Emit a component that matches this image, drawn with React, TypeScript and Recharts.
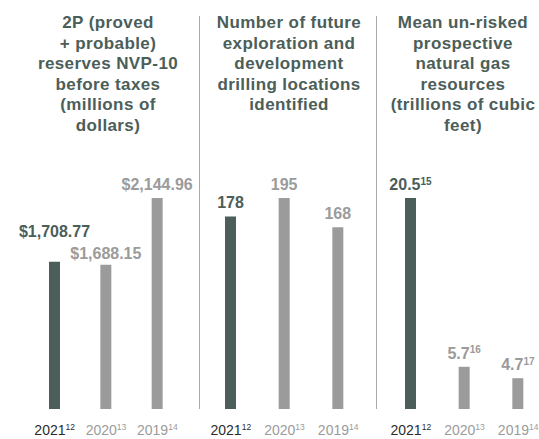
import { BarChart, Bar, XAxis, YAxis, Cell, LabelList } from 'recharts';

const years = ['2021', '2020', '2019'];
const yearNotes = ['12', '13', '14'];

const reserves = [1708.77, 1688.15, 2144.96];
const locations = [178, 195, 168];
const gasResources = [20.5, 5.7, 4.7];
const gasNotes = ['15', '16', '17'];

const reservesTitle = ['2P (proved', '+ probable)', 'reserves NVP-10', 'before taxes', '(millions of', 'dollars)'];
const locationsTitle = ['Number of future', 'exploration and', 'development', 'drilling locations', 'identified'];
const gasTitle = ['Mean un-risked', 'prospective', 'natural gas', 'resources', '(trillions of cubic', 'feet)'];

const DARK = '#4b5e59';
const GRAY = '#9b9b9b';
const FONT = '"Liberation Sans", Arial, sans-serif';
const NARROW = '"Liberation Sans Narrow", "Liberation Sans", Arial, sans-serif';

const formatMoney = (v: number) =>
  '$' + v.toLocaleString('en-US', { minimumFractionDigits: 2, maximumFractionDigits: 2 });
const formatPlain = (v: number) => String(v);

// labels sit 8px over the bar, lift moves one up (or down) so close bars don't collide
function makeValueLabel(format: (v: number) => string, notes?: string[], lift: number[] = [0, 0, 0]) {
  return (props: any) => {
    const { x, y, width, index, value } = props;
    const cx = Number(x) + Number(width) / 2;
    return (
      <text
        x={cx}
        y={Number(y) - 8 - (lift[index] || 0)}
        textAnchor="middle"
        fontFamily={FONT}
        fontSize={16}
        fontWeight={700}
        fill={index === 0 ? DARK : GRAY}
      >
        {format(Number(value))}
        {notes && (
          <tspan fontSize={10} dy={-5.5}>
            {notes[index]}
          </tspan>
        )}
      </text>
    );
  };
}

const YearTick = (props: any) => {
  const { x, y, payload } = props;
  const i = payload.index;
  return (
    <text
      x={x}
      y={y + 17.5}
      textAnchor="middle"
      fontFamily={NARROW}
      fontSize={14}
      fill={i === 0 ? '#2c2c2c' : GRAY}
    >
      {payload.value}
      <tspan fontSize={8.5} dy={-4.2}>
        {yearNotes[i]}
      </tspan>
    </text>
  );
};

interface PanelProps {
  left: number;
  width: number;
  marginLeft: number;
  marginRight: number;
  values: number[];
  domain: [number, number | string];
  format: (v: number) => string;
  notes?: string[];
  lift?: number[];
}

function Panel({ left, width, marginLeft, marginRight, values, domain, format, notes, lift }: PanelProps) {
  const data = years.map((year, i) => ({ year, value: values[i] }));
  return (
    <div style={{ position: 'absolute', left, top: 0 }}>
      <BarChart
        width={width}
        height={439}
        data={data}
        margin={{ top: 198, right: marginRight, bottom: 0, left: marginLeft }}
      >
        <XAxis dataKey="year" height={30} axisLine={false} tickLine={false} tick={<YearTick />} interval={0} />
        <YAxis hide domain={domain as any} />
        <Bar dataKey="value" barSize={11} isAnimationActive={false}>
          {data.map((_, i) => (
            <Cell key={i} fill={i === 0 ? DARK : GRAY} />
          ))}
          <LabelList dataKey="value" content={makeValueLabel(format, notes, lift)} />
        </Bar>
      </BarChart>
    </div>
  );
}

function Title({ lines, center }: { lines: string[]; center: number }) {
  return (
    <div
      style={{
        position: 'absolute',
        left: center - 100,
        width: 200,
        top: 13,
        textAlign: 'center',
        fontFamily: FONT,
        fontWeight: 700,
        fontSize: 17,
        lineHeight: '20.5px',
        letterSpacing: '0.4px',
        color: DARK,
        whiteSpace: 'nowrap',
      }}
    >
      {lines.map((l) => (
        <div key={l}>{l}</div>
      ))}
    </div>
  );
}

const Divider = ({ x }: { x: number }) => (
  <div style={{ position: 'absolute', left: x, top: 16, width: 1, height: 393, background: '#a9a9a9' }} />
);

export default function App() {
  return (
    <div
      style={{
        position: 'absolute',
        left: 0,
        top: 0,
        width: 539,
        height: 439,
        overflow: 'hidden',
        background: '#fff',
      }}
    >
      <Panel
        left={0}
        width={199}
        marginLeft={29}
        marginRight={16}
        values={reserves}
        domain={[700, 'dataMax']}
        format={formatMoney}
        lift={[17, -2, 0]}
      />
      <Panel left={199} width={177} marginLeft={5} marginRight={11} values={locations} domain={[0, 'dataMax']} format={formatPlain} />
      <Panel
        left={376}
        width={170}
        marginLeft={8}
        marginRight={1}
        values={gasResources}
        domain={[2, 'dataMax']}
        format={formatPlain}
        notes={gasNotes}
      />
      <Title lines={reservesTitle} center={108} />
      <Title lines={locationsTitle} center={289} />
      <Title lines={gasTitle} center={463} />
      <Divider x={199} />
      <Divider x={376} />
    </div>
  );
}
